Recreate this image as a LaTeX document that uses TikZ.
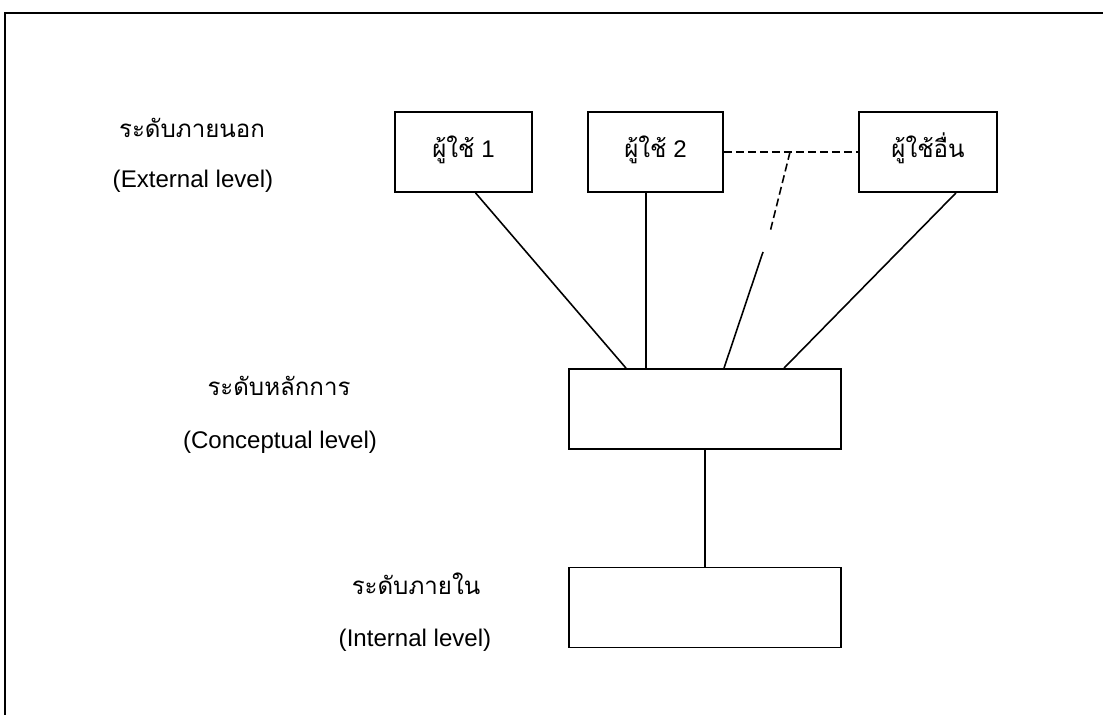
\documentclass[tikz,border=0pt]{standalone}
\usepackage{fontspec}
\setmainfont{Liberation Sans}
\newfontfamily\thaifont[Script=Thai]{Loma}
\usetikzlibrary{calc}

\begin{document}
\begin{tikzpicture}[x=0.02cm,y=-0.02cm,
		font=\fontsize{13.7}{16}\selectfont,
		box/.style={draw,line width=1pt,inner sep=0pt,text height=0.34cm,text depth=0.1cm},
		userbox/.style={box,minimum height=1.6cm},
		levelbox/.style={box,minimum width=5.44cm,minimum height=1.6cm},
		lbl/.style={anchor=base},
		link/.style={line width=0.9pt},
		dashlink/.style={line width=0.9pt,dash pattern=on 0.16cm off 0.08cm}]
		\useasboundingbox (0,0) rectangle (1103,715);
		% frame
		\draw[line width=1.3pt] (5,715) -- (5,13) -- (1103,13);
		% boxes
		\node[userbox,minimum width=2.74cm] (u1) at (463.5,152) {{\thaifont ผู้ใช้} 1};
		\node[userbox,minimum width=2.70cm] (u2) at (655.5,152) {{\thaifont ผู้ใช้} 2};
		\node[userbox,minimum width=2.76cm] (u3) at (928,152) {\thaifont ผู้ใช้อื่น};
		\node[levelbox] (concept) at (705,409) {};
		\node[levelbox] (internal) at (705,607.5) {};
		% labels
		\node[lbl] (ext) at (192,138) {\thaifont ระดับภายนอก};
		\node[lbl] (extEn) at (193,188) {(External level)};
		\node[lbl] (con) at (279,396) {\thaifont ระดับหลักการ};
		\node[lbl] (conEn) at (280,449) {(Conceptual level)};
		\node[lbl] (int) at (416,595) {\thaifont ระดับภายใน};
		\node[lbl] (intEn) at (415,647) {(Internal level)};
		% links
		\coordinate (j) at (790,152);
		\coordinate (gapTop) at (770,232);
		\coordinate (gapBot) at (763,252);
		\draw[link] ($(u1.south)+(12,0)$) -- ($(concept.north)+(-79,0)$);
		\draw[link] ($(u2.south)+(-9.5,0)$) -- ($(concept.north)+(-59,0)$);
		\draw[link] ($(u3.south)+(28,0)$) -- ($(concept.north)+(79,0)$);
		\draw[dashlink] (u2.east) -- (u3.west);
		\draw[dashlink] (j) -- (gapTop);
		\draw[link] (gapBot) -- ($(concept.north)+(19,0)$);
		\draw[link] (concept) -- (internal);
	\end{tikzpicture}
\end{document}
